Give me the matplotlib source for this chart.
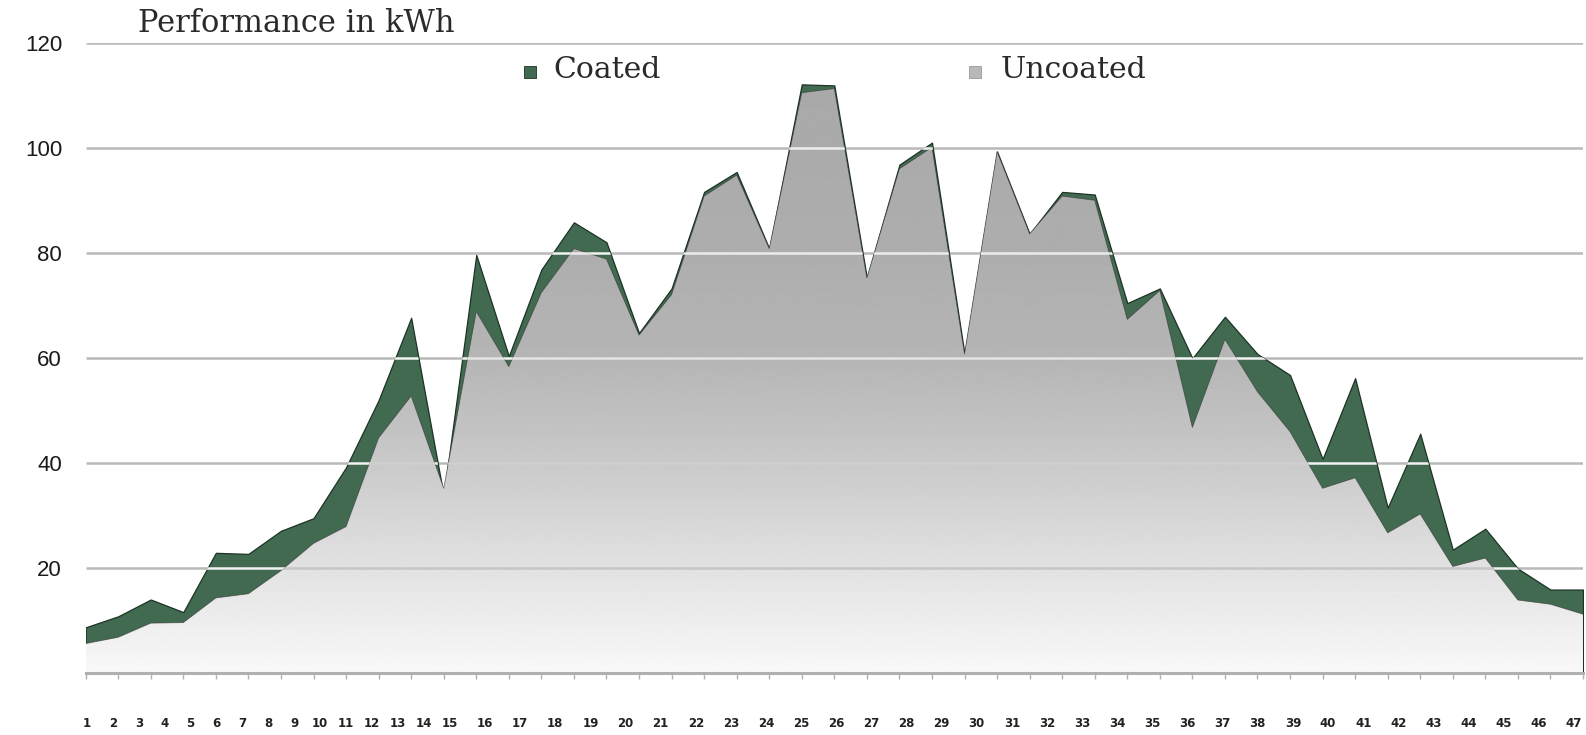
import numpy as np
import matplotlib
matplotlib.use("Agg")
import matplotlib.pyplot as plt
from matplotlib.path import Path
from matplotlib.patches import Rectangle
from matplotlib.colors import LinearSegmentedColormap

# ------------------------- data -------------------------
weeks = np.arange(1, 48)
coated = np.array([
    8.7, 10.8, 14.0, 11.6, 22.9, 22.7, 27.1, 29.5, 39.2, 52.0,
    67.7, 33.8, 79.7, 60.4, 76.9, 85.9, 82.1, 64.8, 73.3, 91.7,
    95.5, 80.9, 112.2, 112.0, 75.3, 96.9, 101.1, 60.8, 99.4, 83.7,
    91.7, 91.2, 70.5, 73.3, 60.0, 67.9, 60.8, 56.8, 40.8, 56.2,
    31.5, 45.6, 23.5, 27.5, 19.9, 15.9, 15.9,
])
uncoated = np.array([
    5.6, 6.8, 9.5, 9.6, 14.3, 15.1, 19.5, 24.7, 27.9, 44.8,
    52.8, 35.2, 68.9, 58.4, 72.5, 80.9, 78.9, 64.4, 72.1, 90.9,
    94.9, 80.9, 110.6, 111.4, 75.3, 96.1, 100.2, 60.8, 99.4, 83.7,
    90.9, 90.1, 67.4, 72.9, 46.8, 63.6, 53.6, 46.0, 35.2, 37.2,
    26.7, 30.3, 20.3, 21.9, 13.9, 13.1, 11.2,
])
y_ticks = [20, 40, 60, 80, 100, 120]
week_labels = [str(w) for w in weeks]

GREEN = "#416a50"
GREEN_EDGE = "#1c3324"
GRID = "#b9b9b9"


def closed_path(xs, ys):
    # repeat the first vertex so the CLOSEPOLY code doesn't eat a real point
    verts = np.column_stack([np.r_[xs, xs[0]], np.r_[ys, ys[0]]])
    return Path(verts, closed=True)


# ------------------------- figure -------------------------
fig = plt.figure(figsize=(15.86, 7.35), dpi=100)
ax = fig.add_axes([0.054, 0.0844, 0.9441, 0.8565])
ax.set_xlim(1, 47)
ax.set_ylim(0, 120)
for s in ax.spines.values():
    s.set_visible(False)

# horizontal grid behind the areas
ax.hlines(y_ticks, 1, 47, color=GRID, lw=1.8, zorder=1)

# coated series (green) sits behind the uncoated one
ax.fill_between(weeks, 0, coated, facecolor=GREEN, edgecolor=GREEN_EDGE,
                lw=0.9, zorder=2)

# uncoated series: vertical grey gradient clipped to its outline
under_path = closed_path(np.r_[weeks[0], weeks, weeks[-1]],
                         np.r_[0, uncoated, 0])
band_path = closed_path(np.r_[weeks, weeks[::-1]],
                        np.r_[coated, uncoated[::-1]])

stops_y = [0, 20, 40, 60, 80, 115]
stops_g = [0.975, 0.885, 0.79, 0.71, 0.68, 0.66]
ys = np.linspace(0, 115, 400)
grad = np.interp(ys, stops_y, stops_g)[:, None]
gray_cmap = LinearSegmentedColormap.from_list("g", ["black", "white"])
im = ax.imshow(grad, extent=[1, 47, 0, 115], origin="lower", aspect="auto",
               cmap=gray_cmap, vmin=0, vmax=1, zorder=3, interpolation="bilinear")
im.set_clip_path(under_path, transform=ax.transData)
ax.plot(weeks, uncoated, color="#303030", lw=0.6, alpha=0.6, zorder=4)

# grid lines read lighter where they cross the filled areas
over_band = ax.hlines(y_ticks[:-1], 1, 47, color="#f3f3f3", lw=1.8, zorder=5)
over_band.set_clip_path(band_path, transform=ax.transData)
over_gray_cols = ["#c6c6c6", "#cfcfcf", "#e4e4e4", "#ebebeb", "#eeeeee"]
for lvl, c in zip(y_ticks[:-1], over_gray_cols):
    ln = ax.hlines(lvl, 1, 47, color=c, lw=1.8, zorder=5)
    ln.set_clip_path(under_path, transform=ax.transData)

# base line
ax.axhline(0, color="#b0b0b0", lw=2.2, zorder=6, clip_on=False)

# y axis
ax.set_yticks(y_ticks)
ax.set_yticklabels([str(v) for v in y_ticks], fontsize=16,
                   family="Liberation Sans", color="#1a1a1a")
ax.tick_params(axis="y", length=0, pad=17)

# x axis: small tick marks at each point, label strip spaced unevenly
label_x = np.interp(weeks, [1, 15, 47], [1.04, 12.19, 46.72])
ax.set_xticks(label_x)
ax.set_xticklabels(week_labels, fontsize=8.5, fontweight="bold",
                   family="DejaVu Sans", color="#222222")
ax.tick_params(axis="x", which="major", length=0, pad=32)
ax.set_xticks(weeks, minor=True)
ax.tick_params(axis="x", which="minor", length=4, width=1, color="#b0b0b0")

# title and legend
W, H = 1586.0, 735.0
fig.text(137.5 / W, 1 - 23 / H, "Performance in kWh", fontsize=22,
         family="DejaVu Serif", color="#2a2a2a", va="center", ha="left")

fig.patches.append(Rectangle((524 / W, 1 - 78 / H), 12 / W, 12 / H,
                             transform=fig.transFigure, facecolor=GREEN,
                             edgecolor=GREEN_EDGE, lw=0.6))
fig.text(553 / W, 1 - 70 / H, "Coated", fontsize=21.5, family="DejaVu Serif",
         color="#2a2a2a", va="center", ha="left")
fig.patches.append(Rectangle((969 / W, 1 - 78 / H), 12 / W, 12 / H,
                             transform=fig.transFigure, facecolor="#b8b8b8",
                             edgecolor="#9a9a9a", lw=0.6))
fig.text(1001 / W, 1 - 70 / H, "Uncoated", fontsize=21.5, family="DejaVu Serif",
         color="#2a2a2a", va="center", ha="left")

fig.savefig("out.png", dpi=100)
plt.close(fig)
